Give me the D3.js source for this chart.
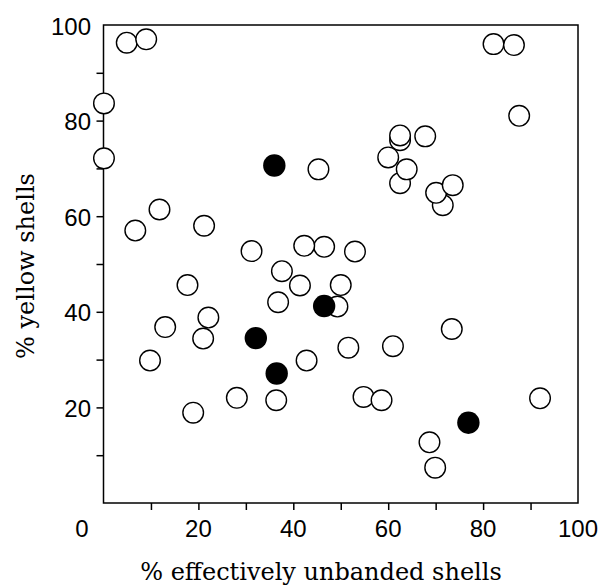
<!DOCTYPE html>
<html>
<head>
<meta charset="utf-8">
<script src="https://cdn.jsdelivr.net/npm/d3@7"></script>
<style>
  html, body { margin: 0; padding: 0; background: #fff; }
  svg { display: block; }
</style>
</head>
<body>
<svg id="chart" width="602" height="587"></svg>
<script>
// ---- Data ----
const openX = [4.9, 9.0, 0.1, 0.1, 11.8, 6.7, 21.2, 31.2, 37.6, 17.7, 46.5, 42.3, 53.0, 41.4, 50.0,
  36.8, 49.3, 22.1, 13.0, 21.0, 9.8, 42.8, 51.6, 61.0, 73.4, 28.1, 36.4, 18.9, 54.8, 58.6,
  92.0, 68.7, 69.9, 82.2, 86.5, 87.6, 62.5, 62.5, 67.8, 60.0, 62.5, 63.9, 71.5, 70.1, 73.6, 45.3];
const openY = [96.3, 97.0, 83.6, 72.1, 61.4, 57.0, 58.0, 52.7, 48.5, 45.6, 53.6, 53.8, 52.6, 45.5, 45.6,
  42.0, 41.1, 38.8, 36.8, 34.4, 29.8, 29.8, 32.5, 32.8, 36.4, 22.0, 21.5, 18.9, 22.2, 21.5,
  21.9, 12.7, 7.4, 96.0, 95.8, 81.0, 75.9, 76.9, 76.7, 72.3, 66.9, 69.8, 62.3, 64.9, 66.5, 69.8];
const filledX = [36.0, 32.1, 36.5, 46.5, 76.9];
const filledY = [70.6, 34.5, 27.1, 41.2, 16.8];

const tickValues = [10, 20, 30, 40, 50, 60, 70, 80, 90];
const xTickLabels = ["20", "40", "60", "80", "100"];
const xTickLabelValues = [20, 40, 60, 80, 100];
const yTickLabels = ["20", "40", "60", "80", "100"];
const yTickLabelValues = [20, 40, 60, 80, 100];
const originLabel = "0";
const xTitle = "% effectively unbanded shells";
const yTitle = "% yellow shells";

// ---- Layout ----
const mLeft = 103.5, mRight = 578, mTop = 25, mBottom = 503;
const x = d3.scaleLinear().domain([0, 100]).range([mLeft, mRight]);
const y = d3.scaleLinear().domain([0, 100]).range([mBottom, mTop]);

const svg = d3.select("#chart");
const sans = "'Liberation Sans', Arial, Helvetica, sans-serif";
const serif = "'DejaVu Serif', serif";

// Frame
svg.append("rect")
  .attr("x", mLeft).attr("y", mTop)
  .attr("width", mRight - mLeft).attr("height", mBottom - mTop)
  .attr("fill", "none").attr("stroke", "#000").attr("stroke-width", 1.5);

// Axes (ticks only)
const xAxis = d3.axisBottom(x).tickValues(tickValues).tickSize(7).tickFormat("");
const gx = svg.append("g").attr("transform", `translate(0,${mBottom})`).call(xAxis);
gx.select(".domain").remove();
gx.selectAll("line").attr("stroke", "#000").attr("stroke-width", 1.5);

const yAxis = d3.axisLeft(y).tickValues(tickValues).tickSize(7).tickFormat("");
const gy = svg.append("g").attr("transform", `translate(${mLeft},0)`).call(yAxis);
gy.select(".domain").remove();
gy.selectAll("line").attr("stroke", "#000").attr("stroke-width", 1.5);

// Tick labels
svg.append("g").selectAll("text").data(xTickLabelValues).join("text")
  .attr("x", d => x(d)).attr("y", 528)
  .attr("text-anchor", "middle").attr("dominant-baseline", "central")
  .attr("font-family", sans).attr("font-size", 24).attr("fill", "#000")
  .text((d, i) => xTickLabels[i]);

svg.append("g").selectAll("text").data(yTickLabelValues).join("text")
  .attr("x", 91).attr("y", d => y(d) + 1)
  .attr("text-anchor", "end").attr("dominant-baseline", "central")
  .attr("font-family", sans).attr("font-size", 24).attr("fill", "#000")
  .text((d, i) => yTickLabels[i]);

svg.append("text")
  .attr("x", 82).attr("y", 528)
  .attr("text-anchor", "middle").attr("dominant-baseline", "central")
  .attr("font-family", sans).attr("font-size", 24).attr("fill", "#000")
  .text(originLabel);

// Axis titles
svg.append("text")
  .attr("x", 321).attr("y", 580)
  .attr("text-anchor", "middle")
  .attr("font-family", serif).attr("font-size", 24).attr("fill", "#000")
  .text(xTitle);

svg.append("text")
  .attr("transform", "translate(34,266) rotate(-90)")
  .attr("text-anchor", "middle")
  .attr("font-family", serif).attr("font-size", 24).attr("fill", "#000")
  .text(yTitle);

// Points
const openData = openX.map((v, i) => ({ x: v, y: openY[i] }));
const filledData = filledX.map((v, i) => ({ x: v, y: filledY[i] }));

svg.append("g").selectAll("circle").data(openData).join("circle")
  .attr("cx", d => x(d.x)).attr("cy", d => y(d.y)).attr("r", 10.3)
  .attr("fill", "#fff").attr("stroke", "#000").attr("stroke-width", 1.4);

svg.append("g").selectAll("circle").data(filledData).join("circle")
  .attr("cx", d => x(d.x)).attr("cy", d => y(d.y)).attr("r", 11.2)
  .attr("fill", "#000");
</script>
</body>
</html>
